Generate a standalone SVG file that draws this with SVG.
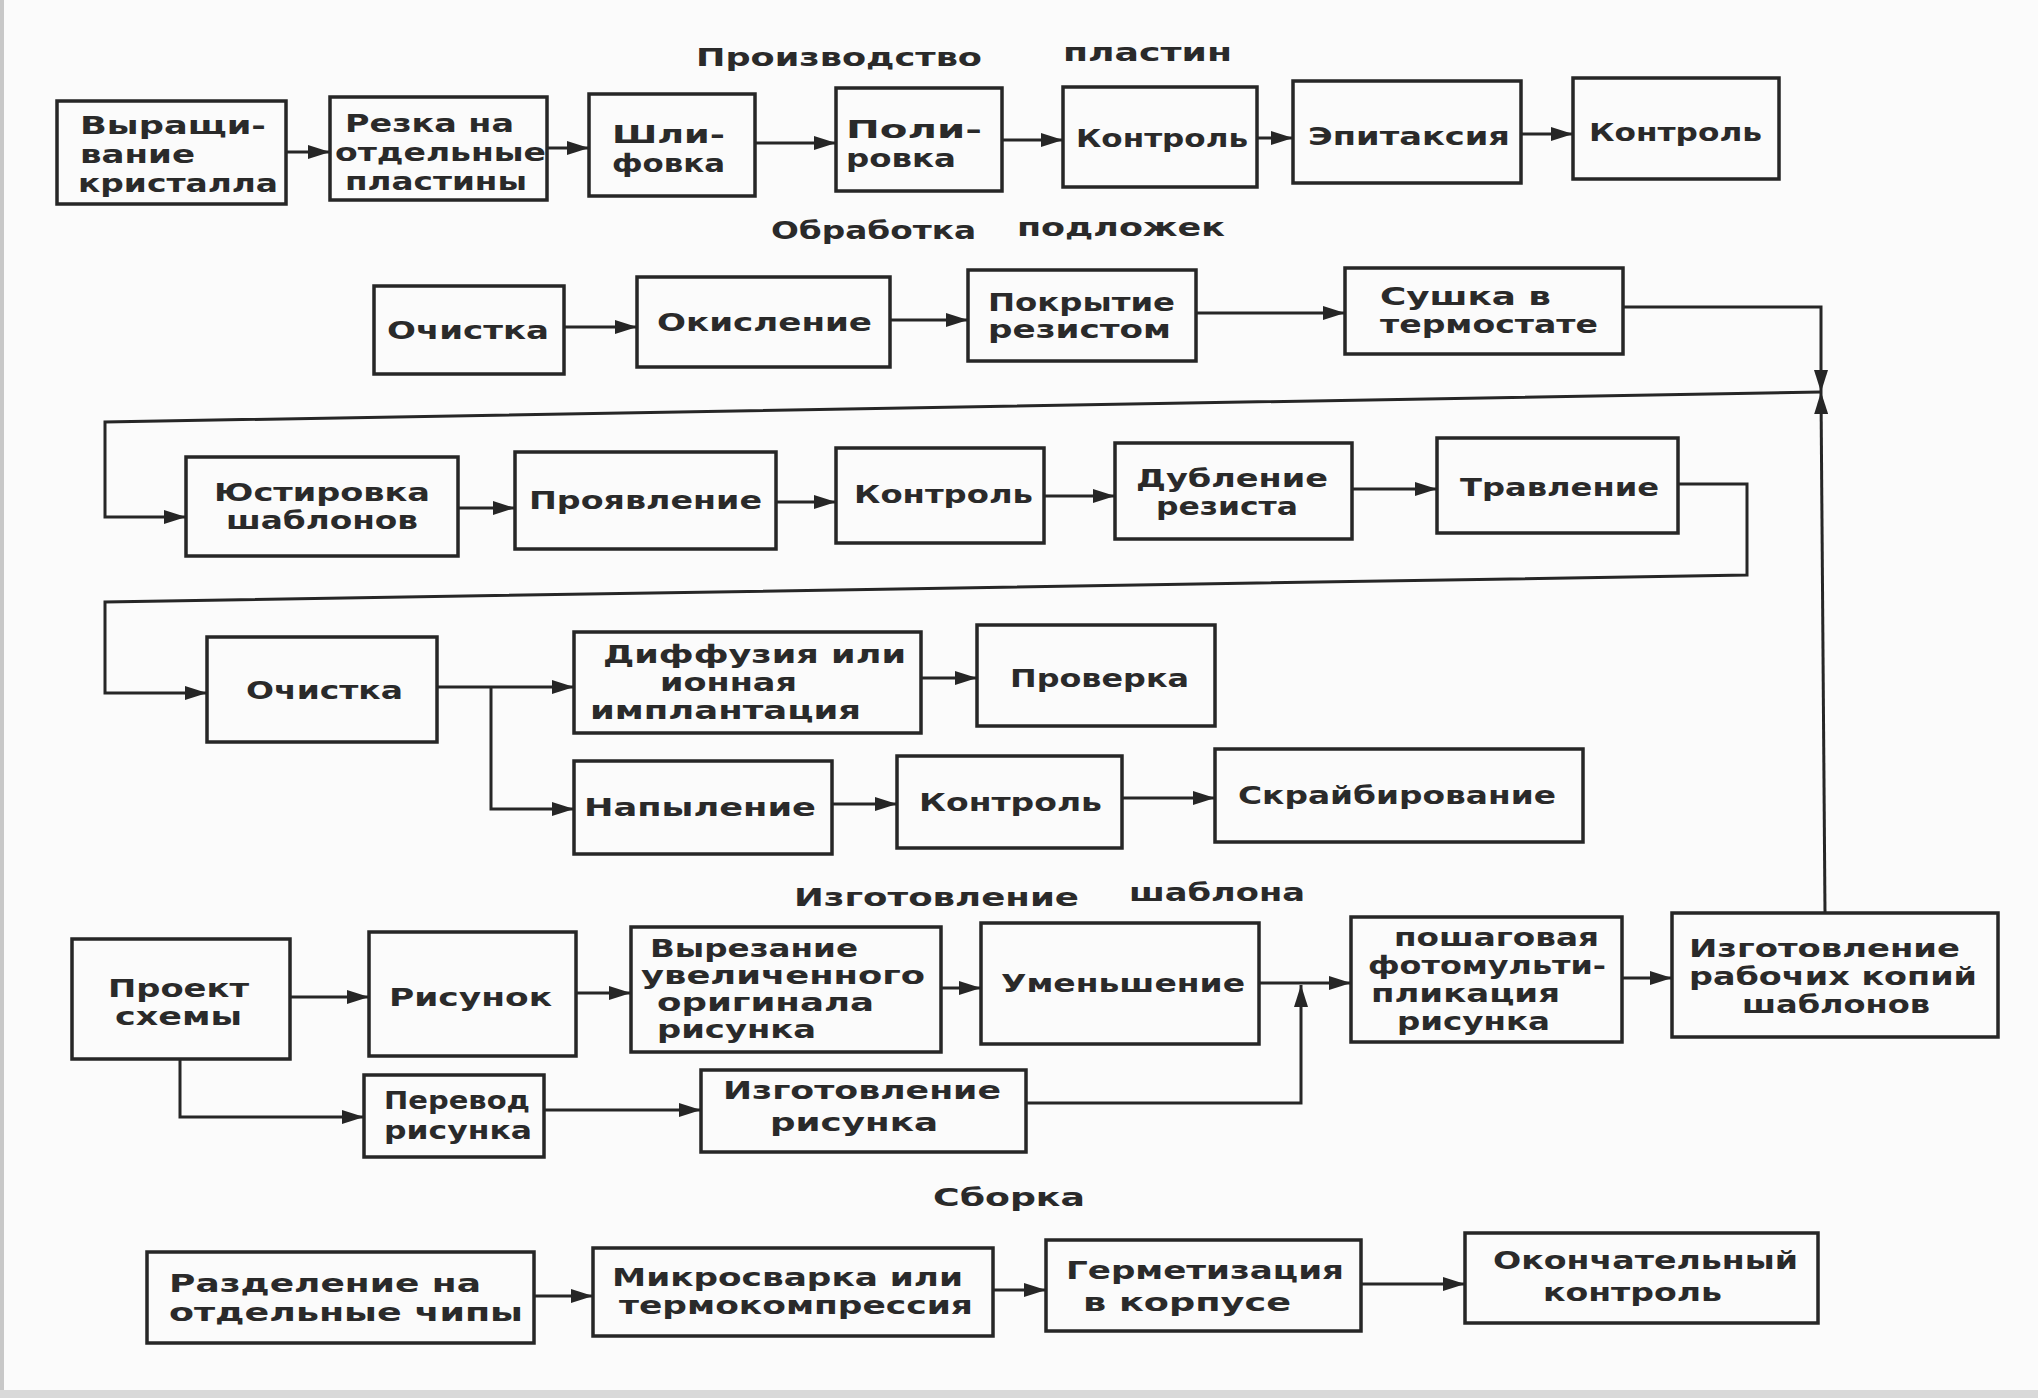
<svg xmlns="http://www.w3.org/2000/svg" width="2038" height="1398" viewBox="0 0 2038 1398">
<style>
.bx{fill:none;stroke:#262626;stroke-width:3.5}
.t{font-family:"DejaVu Sans","Liberation Sans",sans-serif;font-weight:bold;font-size:25px;fill:#2a2a2a}
.c{fill:none;stroke:#262626;stroke-width:3}
</style>
<defs>
<marker id="ah" markerUnits="userSpaceOnUse" markerWidth="24" markerHeight="14" refX="22" refY="7" orient="auto">
<path d="M0,0 L22,7 L0,14 Z" fill="#262626"/>
</marker>
</defs>
<rect width="2038" height="1398" fill="#fbfbfb"/>
<rect x="0" y="0" width="4" height="1398" fill="#c8c8c8"/>
<rect x="0" y="1390" width="2038" height="8" fill="#d9d9d9"/>

<g id="titles">
<text class="t" x="696" y="66" textLength="286" lengthAdjust="spacingAndGlyphs">Производство</text>
<text class="t" x="1063" y="61" textLength="169" lengthAdjust="spacingAndGlyphs">пластин</text>
<text class="t" x="771" y="239" textLength="205" lengthAdjust="spacingAndGlyphs">Обработка</text>
<text class="t" x="1017" y="236" textLength="208" lengthAdjust="spacingAndGlyphs">подложек</text>
<text class="t" x="794" y="906" textLength="285" lengthAdjust="spacingAndGlyphs">Изготовление</text>
<text class="t" x="1129" y="901" textLength="176" lengthAdjust="spacingAndGlyphs">шаблона</text>
<text class="t" x="933" y="1206" textLength="152" lengthAdjust="spacingAndGlyphs">Сборка</text>
</g>

<g id="n_b1"><rect class="bx" x="57" y="101" width="229" height="103"/>
<text class="t" x="80" y="134" textLength="186" lengthAdjust="spacingAndGlyphs">Выращи-</text>
<text class="t" x="80" y="163" textLength="115" lengthAdjust="spacingAndGlyphs">вание</text>
<text class="t" x="78" y="192" textLength="200" lengthAdjust="spacingAndGlyphs">кристалла</text></g>
<g id="n_b2"><rect class="bx" x="330" y="97" width="217" height="103"/>
<text class="t" x="345" y="132" textLength="169" lengthAdjust="spacingAndGlyphs">Резка на</text>
<text class="t" x="335" y="161" textLength="211" lengthAdjust="spacingAndGlyphs">отдельные</text>
<text class="t" x="345" y="190" textLength="182" lengthAdjust="spacingAndGlyphs">пластины</text></g>
<g id="n_b3"><rect class="bx" x="589" y="94" width="166" height="102"/>
<text class="t" x="612" y="143" textLength="113" lengthAdjust="spacingAndGlyphs">Шли-</text>
<text class="t" x="612" y="172" textLength="113" lengthAdjust="spacingAndGlyphs">фовка</text></g>
<g id="n_b4"><rect class="bx" x="836" y="88" width="166" height="103"/>
<text class="t" x="846" y="138" textLength="136" lengthAdjust="spacingAndGlyphs">Поли-</text>
<text class="t" x="846" y="167" textLength="110" lengthAdjust="spacingAndGlyphs">ровка</text></g>
<g id="n_b5"><rect class="bx" x="1063" y="87" width="194" height="100"/>
<text class="t" x="1076" y="147" textLength="172" lengthAdjust="spacingAndGlyphs">Контроль</text></g>
<g id="n_b6"><rect class="bx" x="1293" y="81" width="228" height="102"/>
<text class="t" x="1308" y="145" textLength="202" lengthAdjust="spacingAndGlyphs">Эпитаксия</text></g>
<g id="n_b7"><rect class="bx" x="1573" y="78" width="206" height="101"/>
<text class="t" x="1589" y="141" textLength="173" lengthAdjust="spacingAndGlyphs">Контроль</text></g>

<g id="n_c1"><rect class="bx" x="374" y="286" width="190" height="88"/>
<text class="t" x="387" y="339" textLength="162" lengthAdjust="spacingAndGlyphs">Очистка</text></g>
<g id="n_c2"><rect class="bx" x="637" y="277" width="253" height="90"/>
<text class="t" x="657" y="331" textLength="215" lengthAdjust="spacingAndGlyphs">Окисление</text></g>
<g id="n_c3"><rect class="bx" x="968" y="270" width="228" height="91"/>
<text class="t" x="988" y="311" textLength="187" lengthAdjust="spacingAndGlyphs">Покрытие</text>
<text class="t" x="988" y="338" textLength="183" lengthAdjust="spacingAndGlyphs">резистом</text></g>
<g id="n_c4"><rect class="bx" x="1345" y="268" width="278" height="86"/>
<text class="t" x="1380" y="305" textLength="171" lengthAdjust="spacingAndGlyphs">Сушка  в</text>
<text class="t" x="1380" y="333" textLength="218" lengthAdjust="spacingAndGlyphs">термостате</text></g>

<g id="n_d1"><rect class="bx" x="186" y="457" width="272" height="99"/>
<text class="t" x="214" y="501" textLength="216" lengthAdjust="spacingAndGlyphs">Юстировка</text>
<text class="t" x="226" y="529" textLength="192" lengthAdjust="spacingAndGlyphs">шаблонов</text></g>
<g id="n_d2"><rect class="bx" x="515" y="452" width="261" height="97"/>
<text class="t" x="529" y="509" textLength="233" lengthAdjust="spacingAndGlyphs">Проявление</text></g>
<g id="n_d3"><rect class="bx" x="836" y="448" width="208" height="95"/>
<text class="t" x="854" y="503" textLength="179" lengthAdjust="spacingAndGlyphs">Контроль</text></g>
<g id="n_d4"><rect class="bx" x="1115" y="443" width="237" height="96"/>
<text class="t" x="1136" y="487" textLength="192" lengthAdjust="spacingAndGlyphs">Дубление</text>
<text class="t" x="1156" y="515" textLength="142" lengthAdjust="spacingAndGlyphs">резиста</text></g>
<g id="n_d5"><rect class="bx" x="1437" y="438" width="241" height="95"/>
<text class="t" x="1460" y="496" textLength="199" lengthAdjust="spacingAndGlyphs">Травление</text></g>

<g id="n_e1"><rect class="bx" x="207" y="637" width="230" height="105"/>
<text class="t" x="246" y="699" textLength="157" lengthAdjust="spacingAndGlyphs">Очистка</text></g>
<g id="n_e2"><rect class="bx" x="574" y="632" width="347" height="101"/>
<text class="t" x="603" y="663" textLength="303" lengthAdjust="spacingAndGlyphs">Диффузия или</text>
<text class="t" x="660" y="691" textLength="137" lengthAdjust="spacingAndGlyphs">ионная</text>
<text class="t" x="590" y="719" textLength="271" lengthAdjust="spacingAndGlyphs">имплантация</text></g>
<g id="n_e3"><rect class="bx" x="977" y="625" width="238" height="101"/>
<text class="t" x="1010" y="687" textLength="179" lengthAdjust="spacingAndGlyphs">Проверка</text></g>
<g id="n_e4"><rect class="bx" x="574" y="761" width="258" height="93"/>
<text class="t" x="584" y="816" textLength="232" lengthAdjust="spacingAndGlyphs">Напыление</text></g>
<g id="n_e5"><rect class="bx" x="897" y="756" width="225" height="92"/>
<text class="t" x="919" y="811" textLength="183" lengthAdjust="spacingAndGlyphs">Контроль</text></g>
<g id="n_e6"><rect class="bx" x="1215" y="749" width="368" height="93"/>
<text class="t" x="1238" y="804" textLength="318" lengthAdjust="spacingAndGlyphs">Скрайбирование</text></g>

<g id="n_f1"><rect class="bx" x="72" y="939" width="218" height="120"/>
<text class="t" x="108" y="997" textLength="141" lengthAdjust="spacingAndGlyphs">Проект</text>
<text class="t" x="115" y="1025" textLength="127" lengthAdjust="spacingAndGlyphs">схемы</text></g>
<g id="n_f2"><rect class="bx" x="369" y="932" width="207" height="124"/>
<text class="t" x="389" y="1006" textLength="163" lengthAdjust="spacingAndGlyphs">Рисунок</text></g>
<g id="n_f3"><rect class="bx" x="631" y="927" width="310" height="125"/>
<text class="t" x="650" y="957" textLength="208" lengthAdjust="spacingAndGlyphs">Вырезание</text>
<text class="t" x="641" y="984" textLength="284" lengthAdjust="spacingAndGlyphs">увеличенного</text>
<text class="t" x="657" y="1011" textLength="217" lengthAdjust="spacingAndGlyphs">оригинала</text>
<text class="t" x="657" y="1038" textLength="159" lengthAdjust="spacingAndGlyphs">рисунка</text></g>
<g id="n_f4"><rect class="bx" x="981" y="923" width="278" height="121"/>
<text class="t" x="1001" y="992" textLength="244" lengthAdjust="spacingAndGlyphs">Уменьшение</text></g>
<g id="n_f5"><rect class="bx" x="1351" y="917" width="271" height="125"/>
<text class="t" x="1394" y="946" textLength="205" lengthAdjust="spacingAndGlyphs">пошаговая</text>
<text class="t" x="1368" y="974" textLength="238" lengthAdjust="spacingAndGlyphs">фотомульти-</text>
<text class="t" x="1371" y="1002" textLength="189" lengthAdjust="spacingAndGlyphs">пликация</text>
<text class="t" x="1397" y="1030" textLength="153" lengthAdjust="spacingAndGlyphs">рисунка</text></g>
<g id="n_f6"><rect class="bx" x="1672" y="913" width="326" height="124"/>
<text class="t" x="1689" y="957" textLength="271" lengthAdjust="spacingAndGlyphs">Изготовление</text>
<text class="t" x="1689" y="985" textLength="288" lengthAdjust="spacingAndGlyphs">рабочих копий</text>
<text class="t" x="1742" y="1013" textLength="188" lengthAdjust="spacingAndGlyphs">шаблонов</text></g>
<g id="n_g1"><rect class="bx" x="364" y="1075" width="180" height="82"/>
<text class="t" x="384" y="1109" textLength="146" lengthAdjust="spacingAndGlyphs">Перевод</text>
<text class="t" x="384" y="1139" textLength="148" lengthAdjust="spacingAndGlyphs">рисунка</text></g>
<g id="n_g2"><rect class="bx" x="701" y="1070" width="325" height="82"/>
<text class="t" x="723" y="1099" textLength="278" lengthAdjust="spacingAndGlyphs">Изготовление</text>
<text class="t" x="770" y="1131" textLength="168" lengthAdjust="spacingAndGlyphs">рисунка</text></g>

<g id="n_h1"><rect class="bx" x="147" y="1252" width="387" height="91"/>
<text class="t" x="169" y="1292" textLength="312" lengthAdjust="spacingAndGlyphs">Разделение на</text>
<text class="t" x="169" y="1321" textLength="354" lengthAdjust="spacingAndGlyphs">отдельные чипы</text></g>
<g id="n_h2"><rect class="bx" x="593" y="1248" width="400" height="88"/>
<text class="t" x="612" y="1286" textLength="351" lengthAdjust="spacingAndGlyphs">Микросварка или</text>
<text class="t" x="619" y="1314" textLength="354" lengthAdjust="spacingAndGlyphs">термокомпрессия</text></g>
<g id="n_h3"><rect class="bx" x="1046" y="1240" width="315" height="91"/>
<text class="t" x="1066" y="1279" textLength="278" lengthAdjust="spacingAndGlyphs">Герметизация</text>
<text class="t" x="1083" y="1311" textLength="208" lengthAdjust="spacingAndGlyphs">в  корпусе</text></g>
<g id="n_h4"><rect class="bx" x="1465" y="1233" width="353" height="90"/>
<text class="t" x="1493" y="1269" textLength="305" lengthAdjust="spacingAndGlyphs">Окончательный</text>
<text class="t" x="1543" y="1301" textLength="179" lengthAdjust="spacingAndGlyphs">контроль</text></g>

<g id="connectors">
<path class="c" marker-end="url(#ah)" d="M286,152 L330,152"/>
<path class="c" marker-end="url(#ah)" d="M547,148 L589,148"/>
<path class="c" marker-end="url(#ah)" d="M755,143 L836,143"/>
<path class="c" marker-end="url(#ah)" d="M1002,140 L1063,140"/>
<path class="c" marker-end="url(#ah)" d="M1257,138 L1293,138"/>
<path class="c" marker-end="url(#ah)" d="M1521,134 L1573,134"/>

<path class="c" marker-end="url(#ah)" d="M564,327 L637,327"/>
<path class="c" marker-end="url(#ah)" d="M890,320 L968,320"/>
<path class="c" marker-end="url(#ah)" d="M1196,313 L1345,313"/>
<path class="c" marker-end="url(#ah)" d="M1623,307 L1821,307 L1821,392"/>
<path class="c" marker-end="url(#ah)" d="M1825,913 L1821,392"/>
<path class="c" marker-end="url(#ah)" d="M1821,392 L105,422 L105,517 L186,517"/>

<path class="c" marker-end="url(#ah)" d="M458,508 L515,508"/>
<path class="c" marker-end="url(#ah)" d="M776,502 L836,502"/>
<path class="c" marker-end="url(#ah)" d="M1044,496 L1115,496"/>
<path class="c" marker-end="url(#ah)" d="M1352,489 L1437,489"/>
<path class="c" marker-end="url(#ah)" d="M1678,484 L1747,484 L1747,575 L105,602 L105,693 L207,693"/>

<path class="c" marker-end="url(#ah)" d="M437,687 L574,687"/>
<path class="c" marker-end="url(#ah)" d="M491,687 L491,809 L574,809"/>
<path class="c" marker-end="url(#ah)" d="M921,678 L977,678"/>
<path class="c" marker-end="url(#ah)" d="M832,804 L897,804"/>
<path class="c" marker-end="url(#ah)" d="M1122,798 L1215,798"/>

<path class="c" marker-end="url(#ah)" d="M290,997 L369,997"/>
<path class="c" marker-end="url(#ah)" d="M576,993 L631,993"/>
<path class="c" marker-end="url(#ah)" d="M941,988 L981,988"/>
<path class="c" marker-end="url(#ah)" d="M1259,983 L1351,983"/>
<path class="c" marker-end="url(#ah)" d="M1026,1103 L1301,1103 L1301,985"/>
<path class="c" marker-end="url(#ah)" d="M1622,978 L1672,978"/>
<path class="c" marker-end="url(#ah)" d="M180,1059 L180,1117 L364,1117"/>
<path class="c" marker-end="url(#ah)" d="M544,1110 L701,1110"/>

<path class="c" marker-end="url(#ah)" d="M534,1296 L593,1296"/>
<path class="c" marker-end="url(#ah)" d="M993,1290 L1046,1290"/>
<path class="c" marker-end="url(#ah)" d="M1361,1284 L1465,1284"/>
</g>
</svg>
